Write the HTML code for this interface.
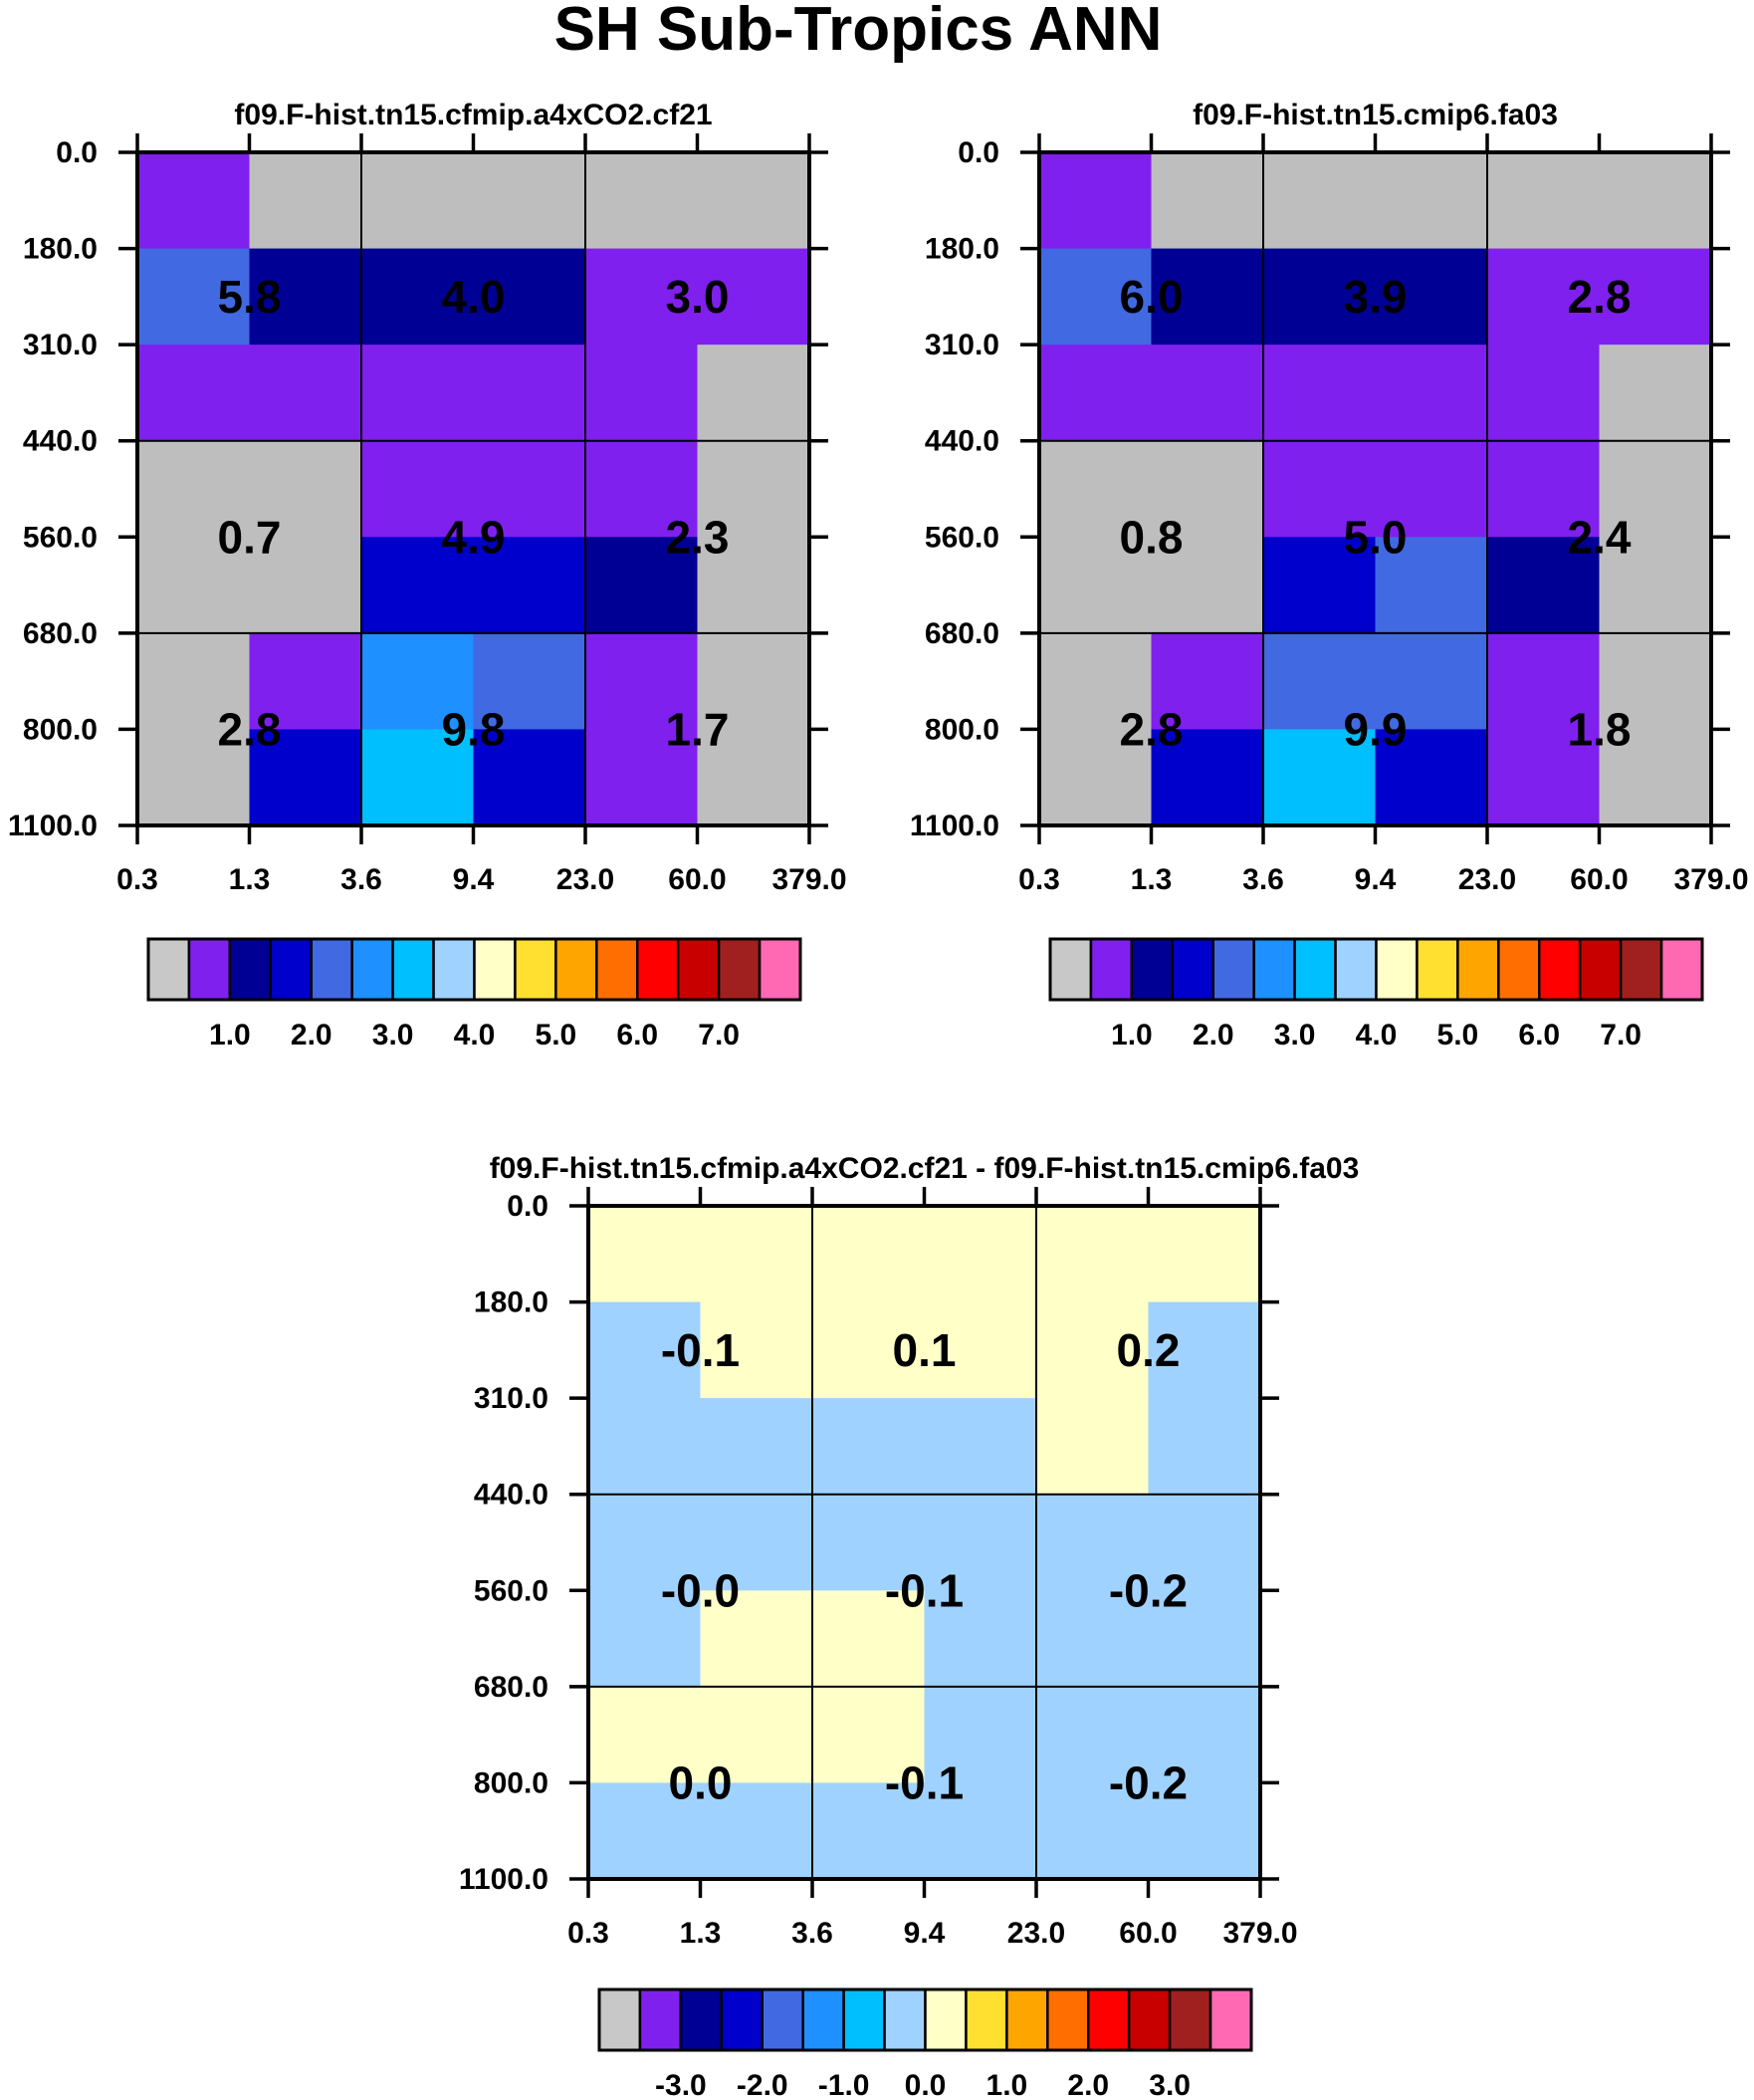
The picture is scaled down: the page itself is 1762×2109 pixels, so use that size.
<!DOCTYPE html>
<html><head><meta charset="utf-8">
<style>
html,body{margin:0;padding:0;background:#fff;}
svg{display:block;font-family:"Liberation Sans",Arial,sans-serif;font-weight:bold;}
</style></head>
<body>
<svg id="fig" width="1762" height="2109" viewBox="0 0 1762 2109" xmlns="http://www.w3.org/2000/svg">
<text x="862" y="50" font-size="62" text-anchor="middle">SH Sub-Tropics ANN</text>
</svg>
<script>
const xTickLabels = ["0.3","1.3","3.6","9.4","23.0","60.0","379.0"];
const yTickLabels = ["0.0","180.0","310.0","440.0","560.0","680.0","800.0","1100.0"];
const cbLabelsAbs = ["1.0","2.0","3.0","4.0","5.0","6.0","7.0"];
const cbLabelsDiff = ["-3.0","-2.0","-1.0","0.0","1.0","2.0","3.0"];
const palette = ["#c8c8c8","#8020ee","#000094","#0000cd","#4169e1","#1e90ff","#00bfff","#a0d2ff","#ffffc8","#ffe030","#ffa500","#ff6e00","#ff0000","#c80000","#a02020","#ff69b4"];
const cellPalette = ["#bebebe"].concat(palette.slice(1));
// cell values (rows top->bottom: 0-180 ... 800-1100; cols 0.3..379)
const valuesA = [
 [0.7,0.3,0.3,0.3,0.3,0.3],
 [2.2,1.2,1.2,1.2,0.7,0.7],
 [0.7,0.7,0.7,0.7,0.7,0.3],
 [0.3,0.3,0.7,0.7,0.7,0.3],
 [0.3,0.3,1.7,1.7,1.2,0.3],
 [0.3,0.7,2.7,2.2,0.7,0.3],
 [0.3,1.7,3.2,1.7,0.7,0.3]];
const valuesB = [
 [0.7,0.3,0.3,0.3,0.3,0.3],
 [2.2,1.2,1.2,1.2,0.7,0.7],
 [0.7,0.7,0.7,0.7,0.7,0.3],
 [0.3,0.3,0.7,0.7,0.7,0.3],
 [0.3,0.3,1.7,2.2,1.2,0.3],
 [0.3,0.7,2.2,2.2,0.7,0.3],
 [0.3,1.7,3.2,1.7,0.7,0.3]];
const valuesD = [
 [0.1,0.1,0.1,0.1,0.1,0.1],
 [-0.1,0.1,0.1,0.1,0.1,-0.1],
 [-0.1,-0.1,-0.1,-0.1,0.1,-0.1],
 [-0.1,-0.1,-0.1,-0.1,-0.1,-0.1],
 [-0.1,0.1,0.1,-0.1,-0.1,-0.1],
 [0.1,0.1,0.1,-0.1,-0.1,-0.1],
 [-0.1,-0.1,-0.1,-0.1,-0.1,-0.1]];
const labelsA = [["5.8","4.0","3.0"],["0.7","4.9","2.3"],["2.8","9.8","1.7"]];
const labelsB = [["6.0","3.9","2.8"],["0.8","5.0","2.4"],["2.8","9.9","1.8"]];
const labelsD = [["-0.1","0.1","0.2"],["-0.0","-0.1","-0.2"],["0.0","-0.1","-0.2"]];
const labelRowPos = [1.5,4,6];
const labelColPos = [1,3,5];

const NS="http://www.w3.org/2000/svg";
const svg=document.getElementById('fig');
function mk(tag,attrs,parent){const e=document.createElementNS(NS,tag);for(const k in attrs)e.setAttribute(k,attrs[k]);(parent||svg).appendChild(e);return e;}
function levelIndex(v,base){let i=Math.floor((v-base)/0.5);return Math.max(0,Math.min(15,i));}
const stripeOff=106;

function panel(name,x0,y0,title,vals,labels,base,cbLabels,cbY){
  const W=675,H=676,nC=6,nR=7;
  const xs=i=>x0+i*W/nC, ys=j=>y0+j*H/nR;
  const g=mk('g',{});
  
  
  const t=mk('text',{x:x0+W/2,y:y0-28,'font-size':30,'text-anchor':'middle'},g);
  
  
  t.textContent=title;
  for(let r=0;r<nR;r++)for(let c=0;c<nC;c++){
    const rc=mk('rect',{x:xs(c),y:ys(r),width:W/nC+0.6,height:H/nR+0.6,fill:cellPalette[levelIndex(vals[r][c],base)]},g);
    
    
  }
  [2,4].forEach(c=>mk('line',{x1:xs(c),x2:xs(c),y1:y0,y2:y0+H,stroke:'#000','stroke-width':2},g));
  [3,5].forEach(r=>mk('line',{x1:x0,x2:x0+W,y1:ys(r),y2:ys(r),stroke:'#000','stroke-width':2},g));
  mk('rect',{x:x0,y:y0,width:W,height:H,fill:'none',stroke:'#000','stroke-width':4},g);
  for(let i=0;i<=nC;i++){
    mk('line',{x1:xs(i),x2:xs(i),y1:y0-19,y2:y0,stroke:'#000','stroke-width':3.5},g);
    mk('line',{x1:xs(i),x2:xs(i),y1:y0+H,y2:y0+H+19,stroke:'#000','stroke-width':3.5},g);
    const tl=mk('text',{x:xs(i),y:y0+H+64,'font-size':30,'text-anchor':'middle'},g);
    
    
    tl.textContent=xTickLabels[i];
  }
  for(let j=0;j<=nR;j++){
    mk('line',{x1:x0-19,x2:x0,y1:ys(j),y2:ys(j),stroke:'#000','stroke-width':3.5},g);
    mk('line',{x1:x0+W,x2:x0+W+19,y1:ys(j),y2:ys(j),stroke:'#000','stroke-width':3.5},g);
    const tl=mk('text',{x:x0-40,y:ys(j)+10,'font-size':30,'text-anchor':'end'},g);
    
    
    tl.textContent=yTickLabels[j];
  }
  for(let a=0;a<3;a++)for(let b=0;b<3;b++){
    const tx=mk('text',{x:xs(labelColPos[b]),y:ys(labelRowPos[a])+16,'font-size':46,'text-anchor':'middle'},g);
    
    
    tx.textContent=labels[a][b];
  }
  const cbx=x0+11,cbw=655,bw=cbw/16,cbh=61;
  const cb=mk('g',{},g);
  
  
  for(let k=0;k<16;k++) mk('rect',{x:cbx+k*bw,y:cbY,width:bw,height:cbh,fill:palette[k],stroke:'#000','stroke-width':2.5},cb);
  mk('rect',{x:cbx,y:cbY,width:cbw,height:cbh,fill:'none',stroke:'#000','stroke-width':3},cb);
  for(let k=0;k<cbLabels.length;k++){
    const tl=mk('text',{x:cbx+(2+2*k)*bw,y:cbY+stripeOff,'font-size':30,'text-anchor':'middle'},cb);
    
    
    tl.textContent=cbLabels[k];
  }
}
panel('model-a',138,153,'f09.F-hist.tn15.cfmip.a4xCO2.cf21',valuesA,labelsA,0,cbLabelsAbs,943);
panel('model-b',1044,153,'f09.F-hist.tn15.cmip6.fa03',valuesB,labelsB,0,cbLabelsAbs,943);
panel('difference',591,1211,'f09.F-hist.tn15.cfmip.a4xCO2.cf21 - f09.F-hist.tn15.cmip6.fa03',valuesD,labelsD,-4,cbLabelsDiff,1998);
</script>
</body></html>
